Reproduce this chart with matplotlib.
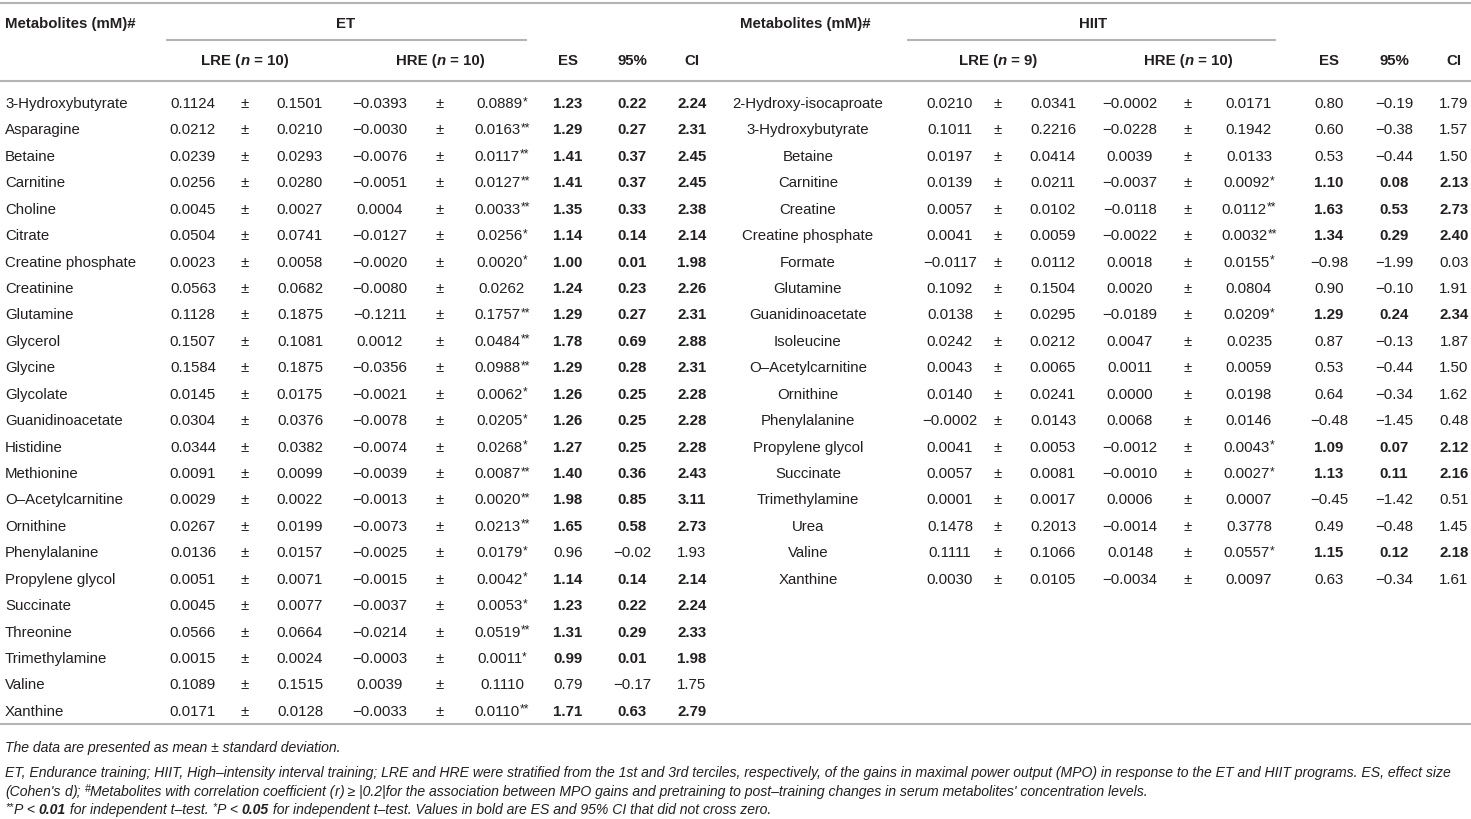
import matplotlib
matplotlib.use("Agg")
import matplotlib.pyplot as plt
from matplotlib import font_manager

# ---- data -------------------------------------------------------------
et_names = ["3-Hydroxybutyrate", "Asparagine", "Betaine", "Carnitine", "Choline", "Citrate",
            "Creatine phosphate", "Creatinine", "Glutamine", "Glycerol", "Glycine", "Glycolate",
            "Guanidinoacetate", "Histidine", "Methionine", "O–Acetylcarnitine", "Ornithine",
            "Phenylalanine", "Propylene glycol", "Succinate", "Threonine", "Trimethylamine",
            "Valine", "Xanthine"]
et_lre_mean = [0.1124, 0.0212, 0.0239, 0.0256, 0.0045, 0.0504, 0.0023, 0.0563, 0.1128, 0.1507,
               0.1584, 0.0145, 0.0304, 0.0344, 0.0091, 0.0029, 0.0267, 0.0136, 0.0051, 0.0045,
               0.0566, 0.0015, 0.1089, 0.0171]
et_lre_sd = [0.1501, 0.0210, 0.0293, 0.0280, 0.0027, 0.0741, 0.0058, 0.0682, 0.1875, 0.1081,
             0.1875, 0.0175, 0.0376, 0.0382, 0.0099, 0.0022, 0.0199, 0.0157, 0.0071, 0.0077,
             0.0664, 0.0024, 0.1515, 0.0128]
et_hre_mean = [-0.0393, -0.0030, -0.0076, -0.0051, 0.0004, -0.0127, -0.0020, -0.0080, -0.1211,
               0.0012, -0.0356, -0.0021, -0.0078, -0.0074, -0.0039, -0.0013, -0.0073, -0.0025,
               -0.0015, -0.0037, -0.0214, -0.0003, 0.0039, -0.0033]
et_hre_sd = [0.0889, 0.0163, 0.0117, 0.0127, 0.0033, 0.0256, 0.0020, 0.0262, 0.1757, 0.0484,
             0.0988, 0.0062, 0.0205, 0.0268, 0.0087, 0.0020, 0.0213, 0.0179, 0.0042, 0.0053,
             0.0519, 0.0011, 0.1110, 0.0110]
et_sig = ["*", "**", "**", "**", "**", "*", "*", "", "**", "**", "**", "*", "*", "*", "**", "**",
          "**", "*", "*", "*", "**", "*", "", "**"]
et_es = [1.23, 1.29, 1.41, 1.41, 1.35, 1.14, 1.00, 1.24, 1.29, 1.78, 1.29, 1.26, 1.26, 1.27, 1.40,
         1.98, 1.65, 0.96, 1.14, 1.23, 1.31, 0.99, 0.79, 1.71]
et_ci_lo = [0.22, 0.27, 0.37, 0.37, 0.33, 0.14, 0.01, 0.23, 0.27, 0.69, 0.28, 0.25, 0.25, 0.25,
            0.36, 0.85, 0.58, -0.02, 0.14, 0.22, 0.29, 0.01, -0.17, 0.63]
et_ci_hi = [2.24, 2.31, 2.45, 2.45, 2.38, 2.14, 1.98, 2.26, 2.31, 2.88, 2.31, 2.28, 2.28, 2.28,
            2.43, 3.11, 2.73, 1.93, 2.14, 2.24, 2.33, 1.98, 1.75, 2.79]

hiit_names = ["2-Hydroxy-isocaproate", "3-Hydroxybutyrate", "Betaine", "Carnitine", "Creatine",
              "Creatine phosphate", "Formate", "Glutamine", "Guanidinoacetate", "Isoleucine",
              "O–Acetylcarnitine", "Ornithine", "Phenylalanine", "Propylene glycol", "Succinate",
              "Trimethylamine", "Urea", "Valine", "Xanthine"]
hiit_lre_mean = [0.0210, 0.1011, 0.0197, 0.0139, 0.0057, 0.0041, -0.0117, 0.1092, 0.0138, 0.0242,
                 0.0043, 0.0140, -0.0002, 0.0041, 0.0057, 0.0001, 0.1478, 0.1111, 0.0030]
hiit_lre_sd = [0.0341, 0.2216, 0.0414, 0.0211, 0.0102, 0.0059, 0.0112, 0.1504, 0.0295, 0.0212,
               0.0065, 0.0241, 0.0143, 0.0053, 0.0081, 0.0017, 0.2013, 0.1066, 0.0105]
hiit_hre_mean = [-0.0002, -0.0228, 0.0039, -0.0037, -0.0118, -0.0022, 0.0018, 0.0020, -0.0189,
                 0.0047, 0.0011, 0.0000, 0.0068, -0.0012, -0.0010, 0.0006, -0.0014, 0.0148, -0.0034]
hiit_hre_sd = [0.0171, 0.1942, 0.0133, 0.0092, 0.0112, 0.0032, 0.0155, 0.0804, 0.0209, 0.0235,
               0.0059, 0.0198, 0.0146, 0.0043, 0.0027, 0.0007, 0.3778, 0.0557, 0.0097]
hiit_sig = ["", "", "", "*", "**", "**", "*", "", "*", "", "", "", "", "*", "*", "", "", "*", ""]
hiit_es = [0.80, 0.60, 0.53, 1.10, 1.63, 1.34, -0.98, 0.90, 1.29, 0.87, 0.53, 0.64, -0.48, 1.09,
           1.13, -0.45, 0.49, 1.15, 0.63]
hiit_ci_lo = [-0.19, -0.38, -0.44, 0.08, 0.53, 0.29, -1.99, -0.10, 0.24, -0.13, -0.44, -0.34,
              -1.45, 0.07, 0.11, -1.42, -0.48, 0.12, -0.34]
hiit_ci_hi = [1.79, 1.57, 1.50, 2.13, 2.73, 2.40, 0.03, 1.91, 2.34, 1.87, 1.50, 1.62, 0.48, 2.12,
              2.16, 0.51, 1.45, 2.18, 1.61]

# ---- figure in pixel coordinates ---------------------------------------
W, H = 1471, 819
fig = plt.figure(figsize=(W / 100, H / 100), dpi=100)
ax = fig.add_axes([0, 0, 1, 1])
ax.set_xlim(0, W)
ax.set_ylim(H, 0)
ax.axis("off")
renderer = fig.canvas.get_renderer()

INK = "#231f20"
RULE = "#b4b4b4"
FONT = "Liberation Sans"
PT = 0.72                 # points per pixel at dpi 100
BODY = 15 * PT

installed = {f.name for f in font_manager.fontManager.ttflist}
NOTE_FONT = "Liberation Sans Narrow" if "Liberation Sans Narrow" in installed else FONT


def runs(x, y, parts, ha="left", size=BODY, family=FONT):
    """draw a line made of differently styled pieces; y is the baseline"""
    items = []
    for s, kw in parts:
        fs = kw.get("size", size)
        core = s.rstrip(" ")
        t = ax.text(0, y + kw.get("dy", 0), core, fontsize=fs, family=family,
                    fontweight=kw.get("weight", "normal"), fontstyle=kw.get("style", "normal"),
                    color=INK, va="baseline", ha="left")
        w = t.get_window_extent(renderer).width if core else 0
        w += (len(s) - len(core)) * 0.278 * fs / PT
        items.append((t, w))
    total = sum(w for _, w in items)
    x0 = {"left": x, "center": x - total / 2, "right": x - total}[ha]
    for t, w in items:
        t.set_x(x0)
        x0 += w
    return total


def fmt(v, nd):
    return f"{v:.{nd}f}".replace("-", "−")


def rule(x0, x1, y):
    ax.plot([x0, x1], [y, y], color=RULE, lw=1.5, solid_capstyle="butt")


B = {"weight": "bold"}
BI = {"weight": "bold", "style": "italic"}
STAR = {"size": 12 * PT, "dy": -3}

# ---- rules ---------------------------------------------------------------
rule(0, W, 3)
rule(166, 527, 40)
rule(907, 1276, 40)
rule(0, W, 81)
rule(0, W, 724)

# ---- header --------------------------------------------------------------
HY1, HY2 = 28, 65
runs(5, HY1, [("Metabolites (mM)#", B)])
runs(346, HY1, [("ET", B)], ha="center")
runs(805, HY1, [("Metabolites (mM)#", B)], ha="center")
runs(1093, HY1, [("HIIT", B)], ha="center")

sides = [
    dict(name_x=5, name_ha="left", cols=[193, 245, 300, 380, 440, 502, 568, 632, 692], n_lre=10,
         names=et_names, lm=et_lre_mean, ls=et_lre_sd, hm=et_hre_mean, hs=et_hre_sd,
         sig=et_sig, es=et_es, lo=et_ci_lo, hi=et_ci_hi),
    dict(name_x=808, name_ha="center", cols=[950, 998, 1053, 1130, 1188, 1249, 1329, 1394, 1454],
         n_lre=9, names=hiit_names, lm=hiit_lre_mean, ls=hiit_lre_sd, hm=hiit_hre_mean,
         hs=hiit_hre_sd, sig=hiit_sig, es=hiit_es, lo=hiit_ci_lo, hi=hiit_ci_hi),
]

ROW0, DY = 108, 26.43
for sd in sides:
    c = sd["cols"]
    runs(c[1], HY2, [("LRE (", B), ("n", BI), (f" = {sd['n_lre']})", B)], ha="center")
    runs(c[4], HY2, [("HRE (", B), ("n", BI), (" = 10)", B)], ha="center")
    runs(c[6], HY2, [("ES", B)], ha="center")
    runs(c[7], HY2, [("95%", B)], ha="center")
    runs(c[8], HY2, [("CI", B)], ha="center")

    for i, name in enumerate(sd["names"]):
        y = ROW0 + i * DY
        runs(sd["name_x"], y, [(name, {})], ha=sd["name_ha"])
        runs(c[0], y, [(fmt(sd["lm"][i], 4), {})], ha="center")
        runs(c[1], y, [("±", {})], ha="center")
        runs(c[2], y, [(fmt(sd["ls"][i], 4), {})], ha="center")
        runs(c[3], y, [(fmt(sd["hm"][i], 4), {})], ha="center")
        runs(c[4], y, [("±", {})], ha="center")
        hs = [(fmt(sd["hs"][i], 4), {})]
        if sd["sig"][i]:
            hs.append((sd["sig"][i], STAR))
        runs(c[5], y, hs, ha="center")
        # bold when the 95% CI does not cross zero
        st = B if (sd["lo"][i] > 0 or sd["hi"][i] < 0) else {}
        runs(c[6], y, [(fmt(sd["es"][i], 2), st)], ha="center")
        runs(c[7], y, [(fmt(sd["lo"][i], 2), st)], ha="center")
        runs(c[8], y, [(fmt(sd["hi"][i], 2), st)], ha="center")

# ---- footnotes -------------------------------------------------------------
I = {"style": "italic"}
IB = {"style": "italic", "weight": "bold"}
line2 = ("ET, Endurance training; HIIT, High–intensity interval training; LRE and HRE were "
         "stratified from the 1st and 3rd terciles, respectively, of the gains in maximal power "
         "output (MPO) in response to the ET and HIIT programs. ES, effect size")
probe = ax.text(0, 0, line2, fontsize=10, family=NOTE_FONT, fontstyle="italic")
NOTE = 10 * 1460 / probe.get_window_extent(renderer).width
probe.remove()
SUP = {"style": "italic", "size": NOTE * 0.75, "dy": -4}

runs(5, 752, [("The data are presented as mean ± standard deviation.", I)], size=NOTE, family=NOTE_FONT)
runs(5, 777, [(line2, I)], size=NOTE, family=NOTE_FONT)
runs(5, 796, [("(Cohen's ", I), ("d", I), ("); ", I), ("#", SUP),
              ("Metabolites with correlation coefficient (", I), ("r", I),
              (") ≥ |0.2|for the association between MPO gains and pretraining to post–training "
               "changes in serum metabolites' concentration levels.", I)],
     size=NOTE, family=NOTE_FONT)
runs(5, 814, [("**", SUP), ("P", I), (" < ", I), ("0.01", IB), (" for independent t–test. ", I),
              ("*", SUP), ("P", I), (" < ", I), ("0.05", IB),
              (" for independent t–test. Values in bold are ES and 95% CI that did not cross zero.", I)],
     size=NOTE, family=NOTE_FONT)

fig.savefig("out.png", dpi=100)
